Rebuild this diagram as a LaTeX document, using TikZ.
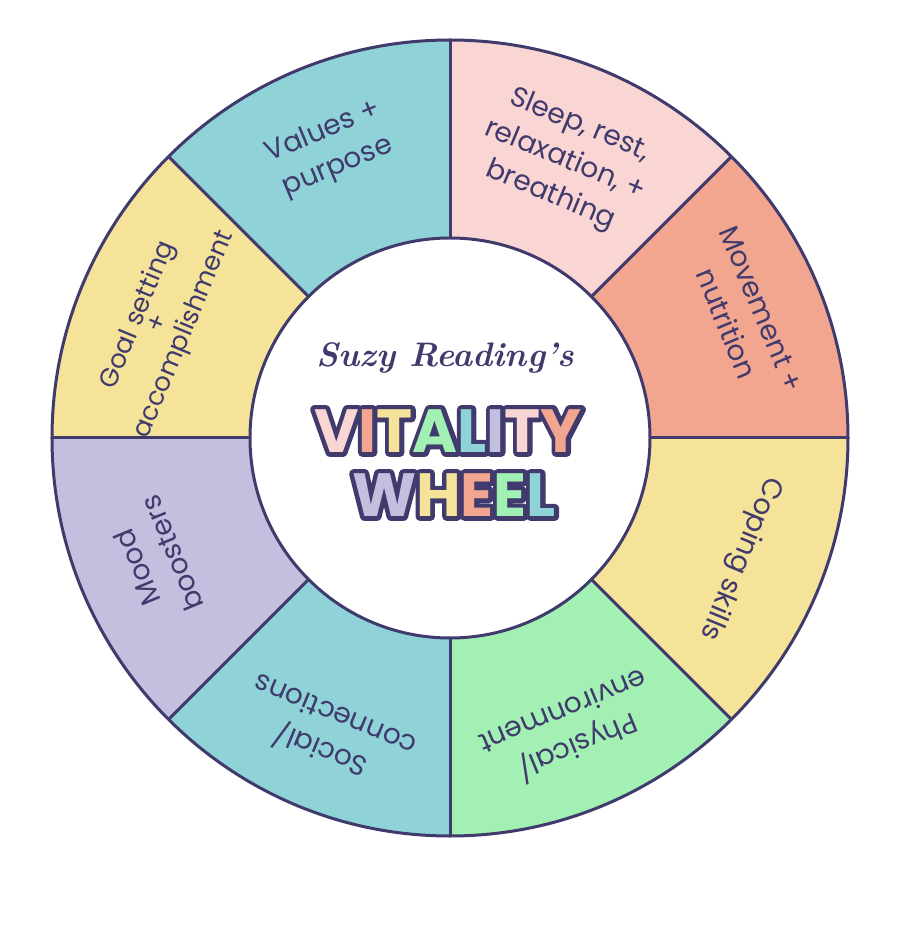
\documentclass[tikz,border=0pt]{standalone}
\usepackage{fontspec}
\newfontfamily\labfont{Poppins}
\newfontfamily\titfont{Poppins}
\definecolor{navy}{HTML}{403A6D}
\definecolor{cteal}{HTML}{8FD3D9}
\definecolor{cpink}{HTML}{F9D5D3}
\definecolor{csalm}{HTML}{F2A68F}
\definecolor{cyell}{HTML}{F5E39A}
\definecolor{cgreen}{HTML}{A3F0B5}
\definecolor{clav}{HTML}{C3C0DF}
\newcommand\lc[2]{\textcolor{#1}{#2}}
\newcommand\navylc[2]{\textcolor{navy}{#2}}
\newcommand\vitwordwith[1]{#1{cpink}{V}#1{csalm}{I}#1{cyell}{T}#1{cgreen}{A}#1{cteal}{L}#1{clav}{I}#1{cpink}{T}#1{csalm}{Y}}
\newcommand\wheelwordwith[1]{#1{clav}{W}#1{cyell}{H}#1{csalm}{E}#1{cgreen}{E}#1{cteal}{L}}
\newcommand\strokeon{\special{pdf:literal direct 2 Tr 9 w 1 j 1 J}}
\newcommand\strokeoff{\special{pdf:literal direct 0 Tr 0.3985 w 0 j 0 J}}
\tikzset{
  seg/.style={draw=navy, line width=3pt},
  lab/.style={font=\labfont\fontsize{28}{38}\selectfont, text=navy, align=center, inner sep=0pt},
  tit/.style={font=\titfont\bfseries\fontsize{61}{64}\selectfont, inner sep=0pt},
  scr/.style={font=\rmfamily\bfseries\itshape\fontsize{34}{36}\selectfont, text=navy, inner sep=0pt},
}
\begin{document}
\begin{tikzpicture}[x=1pt,y=1pt]
\useasboundingbox[fill=white] (-450,-501) rectangle (450,438);
% sectors
\foreach \a/\c in {90/cteal, 45/cpink, 0/csalm, -45/cyell, -90/cgreen, -135/cteal, 180/clav, 135/cyell}{
  \pgfmathsetmacro\b{\a+45}
  \fill[\c] (\a:200) arc[start angle=\a, end angle=\b, radius=200] -- (\b:398) arc[start angle=\b, end angle=\a, radius=398] -- cycle;
}
\foreach \a in {0,45,...,315}{
  \draw[seg] (\a:200) -- (\a:398);
}
\draw[seg] (0,0) circle[radius=398];
\draw[seg] (0,0) circle[radius=200];
% labels
\node[lab, rotate=22.5] (values) at (112.5:312) {Values +\\purpose};
\node[lab, rotate=-22.5] (sleep) at (67.5:300) {Sleep, rest,\\relaxation, +\\breathing};
\node[lab, rotate=-67.5] (move) at (22.5:318) {Movement +\\nutrition};
\node[lab, rotate=-112.5] (coping) at (-22.5:314) {Coping skills};
\node[lab, rotate=-157.5] (phys) at (-67.5:318) {Physical/\\environment};
\node[lab, rotate=157.5] (social) at (-112.5:322) {Social/\\connections};
\node[lab, rotate=112.5] (mood) at (202.5:320) {Mood\\boosters};
\node[lab, rotate=67.5, font=\labfont\fontsize{26}{34}\selectfont] (goal) at (158.6:310) {Goal setting\\[-12pt]+\\[-6pt]accomplishment};
% title
\node[scr] (suzy) at (-5,80) {Suzy Reading's};
\node[tit] (vito) at (-2,7) {\strokeon\vitwordwith\navylc\strokeoff};
\node[tit] (whlo) at (4,-57) {\strokeon\wheelwordwith\navylc\strokeoff};
\node[tit] (vit) at (-2,7) {\vitwordwith\lc};
\node[tit] (whl) at (4,-57) {\wheelwordwith\lc};
\end{tikzpicture}
\end{document}
